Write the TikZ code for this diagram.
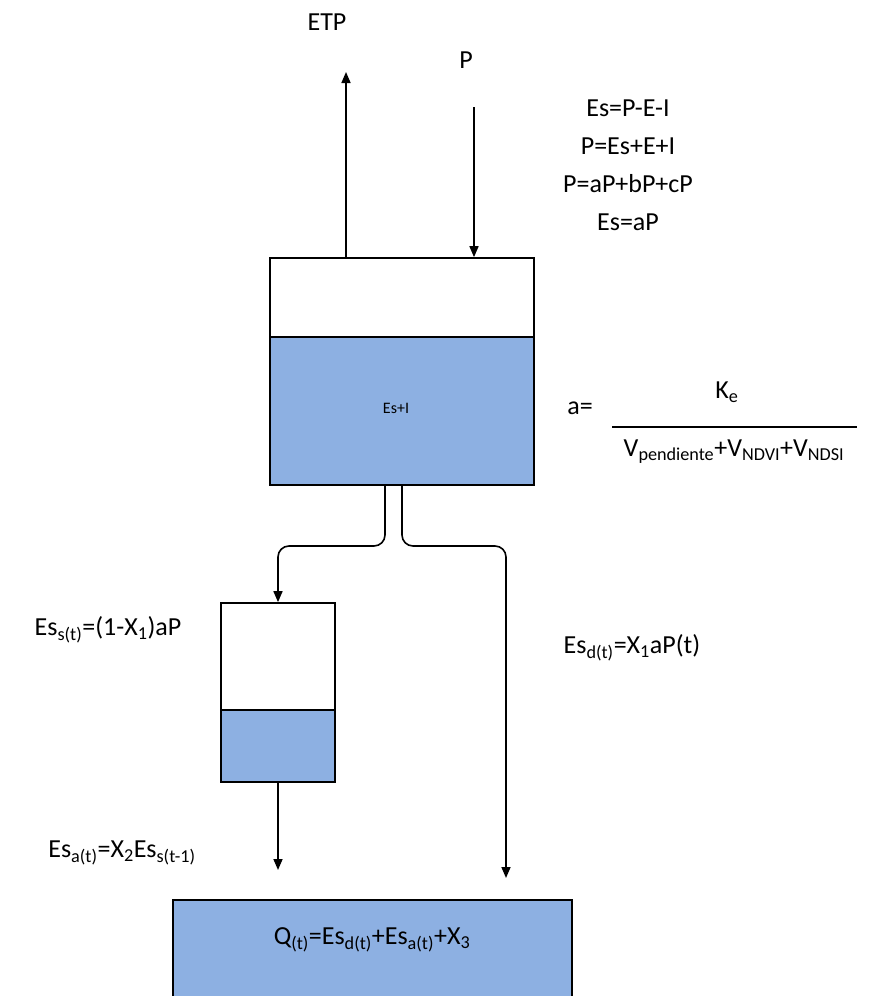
\documentclass[tikz,border=0pt]{standalone}
\usepackage{fontspec}
\setmainfont{Carlito}
\usetikzlibrary{arrows.meta, positioning, calc}
\definecolor{waterblue}{RGB}{141,176,226}

\begin{document}
\begin{tikzpicture}[x=1pt, y=-1pt,
    % Styles for reservoirs and flows
    tank/.style={draw, line width=1.7pt, inner sep=0pt, fill=white},
    water/.style={tank, fill=waterblue},
    flow/.style={line width=1.6pt, -{Triangle[length=11pt, width=9pt]}},
    lbl/.style={inner sep=1pt, font=\fontsize{26}{31}\selectfont},
    small/.style={inner sep=1pt, font=\fontsize{16}{19}\selectfont}]

\useasboundingbox (0,0) rectangle (872,996);

% Upper reservoir
\node[tank, minimum width=264pt, minimum height=227pt] (top) at (402,371.5) {};
\node[water, minimum width=264pt, minimum height=148pt, anchor=south] (topw) at (top.south) {};
\node[small] (esi) at (396,408) {Es+I};

% Small reservoir
\node[tank, minimum width=114pt, minimum height=179pt] (mid) at (278,692.5) {};
\node[water, minimum width=114pt, minimum height=72pt, anchor=south] (midw) at (mid.south) {};

% Outlet box (cut by the page)
\node[water, minimum width=399pt, minimum height=110pt] (out) at (372.5,955) {};
\node[lbl] (qt) at (372,940) {Q\textsubscript{(t)}=Es\textsubscript{d(t)}+Es\textsubscript{a(t)}+X\textsubscript{3}};

% Labels
\node[lbl] (etp) at (327,22) {ETP};
\node[lbl] (p) at (466,60) {P};
\node[lbl, align=center, font=\fontsize{26}{38}\selectfont] (eqs) at (628,165)
    {Es=P-E-I\\P=Es+E+I\\P=aP+bP+cP\\Es=aP};
\node[lbl] (aeq) at (580,408) {a=};
\node[lbl] (ke) at (727,392) {K\textsubscript{e}};
\node[lbl] (den) at (734,452) {V\textsubscript{pendiente}+V\textsubscript{NDVI}+V\textsubscript{NDSI}};
\draw[line width=1.3pt] (612,427) -- (857,427);
\node[lbl] (ess) at (108,630) {Es\textsubscript{s(t)}=(1-X\textsubscript{1})aP};
\node[lbl] (esd) at (632,648) {Es\textsubscript{d(t)}=X\textsubscript{1}aP(t)};
\node[lbl] (esa) at (122,853) {Es\textsubscript{a(t)}=X\textsubscript{2}Es\textsubscript{s(t-1)}};

% Flow coordinates
\coordinate (etptip) at (346,72);
\coordinate (pstart) at (474,107);
\coordinate (outL) at (385,485);
\coordinate (outR) at (402,485);
\coordinate (jL) at (278,546);
\coordinate (jR) at (506,546);
\coordinate (qinR) at (506,878);
\coordinate (qinL) at (278,870);

% Flows
\draw[flow] (top.north -| etptip) -- (etptip);
\draw[flow] (pstart) -- (top.north -| pstart);
\draw[flow, rounded corners=11pt] (outL) |- (jL) -- (mid.north);
\draw[flow, rounded corners=11pt] (outR) |- (jR) -- (qinR);
\draw[flow] (mid.south) -- (qinL);

\end{tikzpicture}
\end{document}
